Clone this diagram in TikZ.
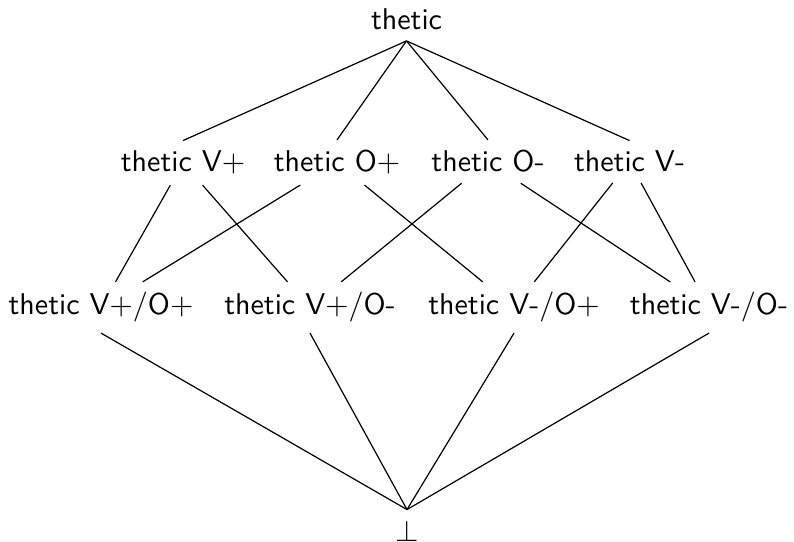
\documentclass[tikz,border=0pt]{standalone}
\begin{document}
\begin{tikzpicture}[x=0.3333pt,y=-0.3333pt,
  lat/.style={anchor=base,font=\sffamily},
  edge/.style={line width=0.4pt}]
\useasboundingbox (0,0) rectangle (794,542);
\node[lat] (top) at (406.5,30) {thetic};
\node[lat] (vp) at (183,172) {thetic V$+$};
\node[lat] (op) at (337,172) {thetic O$+$};
\node[lat] (om) at (488,172) {thetic O-};
\node[lat] (vm) at (629.5,172) {thetic V-};
\node[lat] (vpop) at (101,315) {thetic V$+$/O$+$};
\node[lat] (vpom) at (310,315) {thetic V$+$/O-};
\node[lat] (vmop) at (514,315) {thetic V-/O$+$};
\node[lat] (vmom) at (709,315) {thetic V-/O-};
\node[lat] (bot) at (407,541) {$\bot$};
\foreach \c in {vp,op,om,vm} \draw[edge] (top.south) -- (\c.north);
\draw[edge] (vp) -- (vpop);
\draw[edge] (vp) -- (vpom);
\draw[edge] (op) -- (vpop);
\draw[edge] (op) -- (vmop);
\draw[edge] (om) -- (vpom);
\draw[edge] (om) -- (vmom);
\draw[edge] (vm) -- (vmop);
\draw[edge] (vm) -- (vmom);
\foreach \c in {vpop,vpom,vmop,vmom} \draw[edge] (\c.south) -- (bot.north);
\end{tikzpicture}
\end{document}
